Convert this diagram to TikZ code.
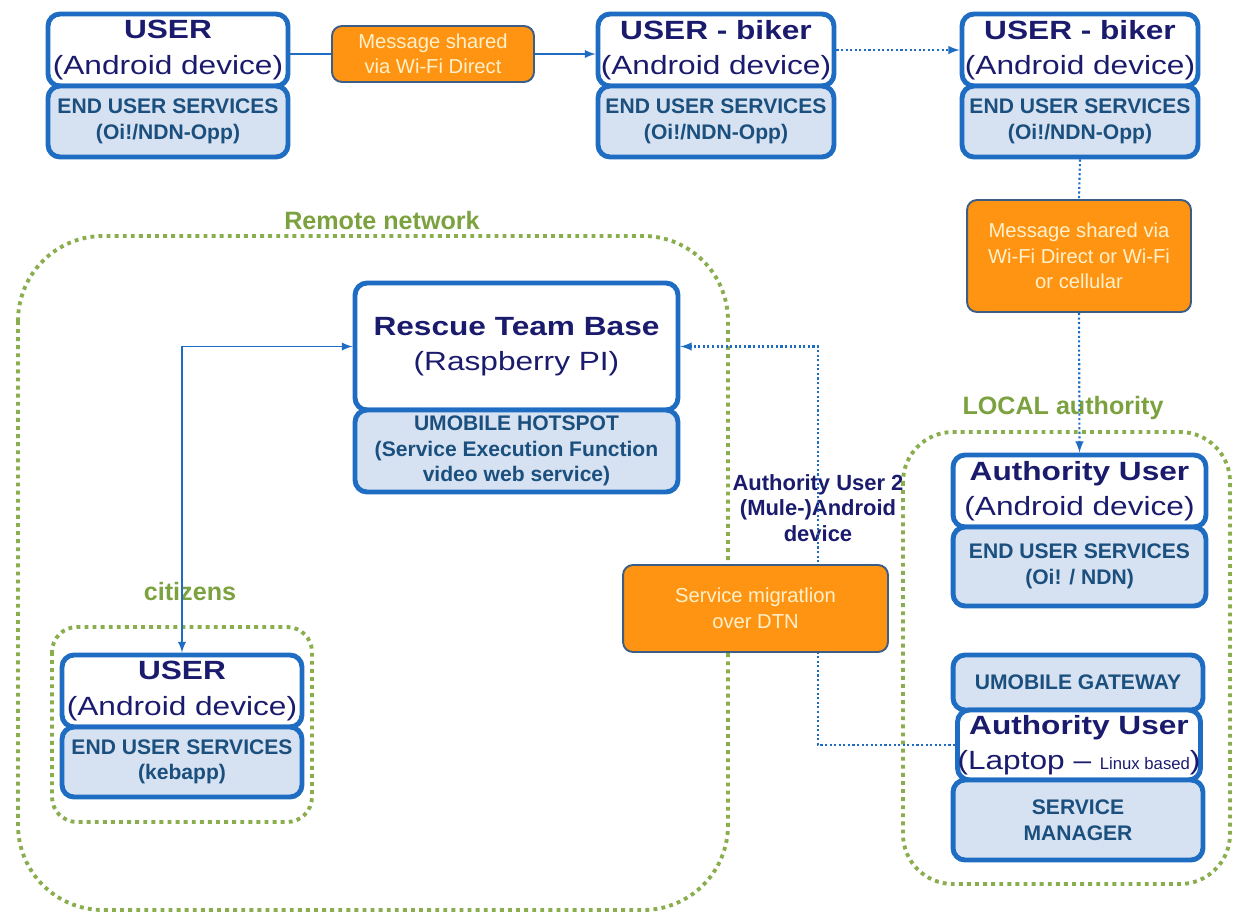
\documentclass[tikz,border=0pt]{standalone}
\usepackage{fontspec}
\setmainfont{Liberation Sans}
\newfontfamily\widefont[FakeStretch=1.2]{Liberation Sans}
\usetikzlibrary{arrows}

\definecolor{boxblue}{HTML}{1F6DC2}
\definecolor{boxfill}{HTML}{D6E2F1}
\definecolor{navy}{HTML}{1B1B6E}
\definecolor{svctext}{HTML}{1B4F7E}
\definecolor{msgfill}{HTML}{FF9412}
\definecolor{msgline}{HTML}{3C5D86}
\definecolor{msgtext}{HTML}{FFF1CC}
\definecolor{zonegreen}{HTML}{8AAE4E}
\definecolor{labelgreen}{HTML}{7BA23F}

\tikzset{
  devbox/.style={draw=boxblue, line width=2.8pt, rounded corners=0.24cm, fill=white,
    inner sep=0pt, align=center, text=navy, font=\widefont\fontsize{15}{20}\selectfont},
  svcbox/.style={devbox, fill=boxfill, text=svctext, font=\bfseries\fontsize{12}{14.5}\selectfont},
  msgbox/.style={draw=msgline, line width=1.1pt, rounded corners=0.2cm, fill=msgfill,
    text=msgtext, align=center, inner sep=0pt, font=\fontsize{11.5}{14.5}\selectfont},
  zone/.style={draw=zonegreen, line width=2.2pt, dash pattern=on 2.2pt off 2.4pt},
  zonelabel/.style={text=labelgreen, font=\bfseries\fontsize{14.3}{17}\selectfont},
  link/.style={draw=boxblue, line width=1.1pt},
  dotlink/.style={draw=boxblue, line width=1.2pt, dash pattern=on 1.2pt off 1.4pt}
}

\begin{document}
\begin{tikzpicture}[x=0.02cm, y=-0.02cm, >=latex]
\useasboundingbox (0,0) rectangle (1233,913);
% zones
\draw[zone, rounded corners=1.7cm] (18,236) rectangle (728,910);
\draw[zone, rounded corners=0.5cm] (52,627) rectangle (312,822);
\draw[zone, rounded corners=1cm] (903,432) rectangle (1230,884);
\node[zonelabel] (remlbl) at (382,221) {Remote network};
\node[zonelabel] (citlbl) at (190,592) {citizens};
\node[zonelabel] (loclbl) at (1063,408) {LOCAL authority};
% top row
\node[devbox, minimum width=4.8cm, minimum height=1.44cm] (u1) at (168,50) {{\bfseries USER}\\(Android device)};
\node[svcbox, minimum width=4.8cm, minimum height=1.42cm] (u1s) at (168,121.5) {END USER SERVICES\\(Oi!/NDN-Opp)};
\node[msgbox, minimum width=4.04cm, minimum height=1.12cm] (m1) at (433,54) {Message shared\\via Wi-Fi Direct};
\node[devbox, minimum width=4.72cm, minimum height=1.44cm] (u2) at (716,50) {{\bfseries USER - biker}\\(Android device)};
\node[svcbox, minimum width=4.72cm, minimum height=1.42cm] (u2s) at (716,121.5) {END USER SERVICES\\(Oi!/NDN-Opp)};
\node[devbox, minimum width=4.72cm, minimum height=1.44cm] (u3) at (1080,50) {{\bfseries USER - biker}\\(Android device)};
\node[svcbox, minimum width=4.72cm, minimum height=1.42cm] (u3s) at (1080,121.5) {END USER SERVICES\\(Oi!/NDN-Opp)};
\node[msgbox, minimum width=4.48cm, minimum height=2.24cm] (m2) at (1079,256) {Message shared via\\Wi-Fi Direct or Wi-Fi\\or cellular};
% remote network
\node[devbox, minimum width=6.46cm, minimum height=2.54cm] (rescue) at (516.5,346.5) {{\bfseries Rescue Team Base}\\(Raspberry PI)};
\node[svcbox, minimum width=6.46cm, minimum height=1.64cm] (rescues) at (516.5,451) {UMOBILE HOTSPOT\\(Service Execution Function\\video web service)};
\node[devbox, minimum width=4.8cm, minimum height=1.44cm] (u4) at (182,691) {{\bfseries USER}\\(Android device)};
\node[svcbox, minimum width=4.8cm, minimum height=1.4cm] (u4s) at (182,762) {END USER SERVICES\\(kebapp)};
% local authority
\node[devbox, minimum width=5.06cm, minimum height=1.44cm] (a1) at (1079.5,491) {{\bfseries Authority User}\\(Android device)};
\node[svcbox, minimum width=5.06cm, minimum height=1.58cm] (a1s) at (1079.5,566.5) {END USER SERVICES\\(Oi! / NDN)};
\node[svcbox, minimum width=5cm, minimum height=1.1cm] (gw) at (1078,682.5) {UMOBILE GATEWAY};
\node[devbox, minimum width=4.76cm, minimum height=1.4cm] (a2) at (1079,745) {{\bfseries Authority User}\\(Laptop – {\normalfont\fontsize{9.5}{11}\selectfont Linux based})};
\node[svcbox, minimum width=5cm, minimum height=1.6cm] (a2s) at (1078,820) {SERVICE\\MANAGER};
\node[text=navy, align=center, font=\bfseries\fontsize{12.5}{14.7}\selectfont] (au2) at (818,508) {Authority User 2\\(Mule-)Android\\device};
% links
\draw[link] (m1.west -| u1.east) -- (m1.west);
\draw[link,->] (m1.east) -- (m1.east -| u2.west);
\draw[dotlink,->] (u2.east) -- (u3.west);
\draw[dotlink] (u3s.south) -- (m2.north);
\draw[dotlink,->] (m2.south) -- (a1.north);
\draw[link,<->] (rescue.west) -| (u4.north);
\draw[dotlink,->] (a2.west) -- (a2.west -| au2.center) |- (rescue.east);
% migration
\node[msgbox, minimum width=5.3cm, minimum height=1.74cm] (m3) at (755.5,608.5) {Service migratlion\\over DTN};
\end{tikzpicture}
\end{document}
